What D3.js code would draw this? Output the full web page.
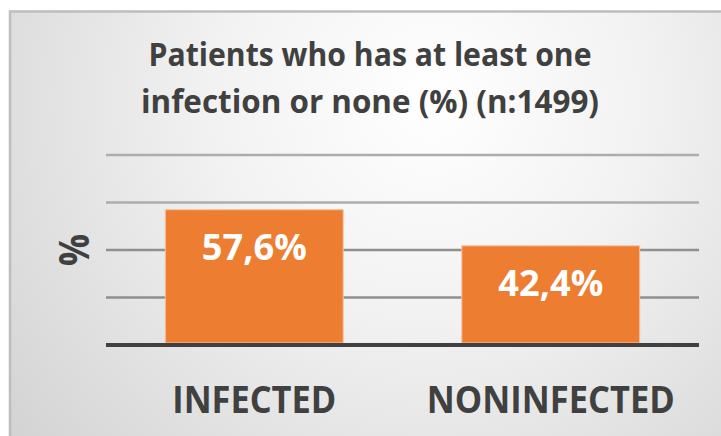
<!DOCTYPE html>
<html>
<head>
<meta charset="utf-8">
<script src="https://cdn.jsdelivr.net/npm/d3@7"></script>
<style>
    html, body { margin: 0; padding: 0; background: #fff; }
    svg { display: block; }
    text { font-family: "Open Sans", "Noto Sans", sans-serif; font-weight: 700; }
</style>
</head>
<body>
<div id="chart-holder"></div>
<script>
// data
const categories = ["INFECTED", "NONINFECTED"];
const values = [57.6, 42.4];
const valueLabels = ["57,6%", "42,4%"];
const yTicks = [0, 20, 40, 60, 80];
const titleLines = ["Patients who has at least one", "infection or none (%) (n:1499)"];
const yTitle = "%";

const WIDTH = 721;
const HEIGHT = 436;
const TEXT_COLOR = "#404040";
const BAR_COLOR = "#ED7D31";

// the reference font is narrow (Calibri-like), squeeze Open Sans to the same widths
const titleWidths = [443, 458];
const catWidths = [164, 248];
const valueWidth = 105;

const margin = {top: 155, right: 22, bottom: 91, left: 106};

const svg = d3.select("#chart-holder").append("svg")
    .attr("width", WIDTH)
    .attr("height", HEIGHT);

const defs = svg.append("defs");
const grad = defs.append("radialGradient")
    .attr("id", "bg")
    .attr("gradientUnits", "userSpaceOnUse")
    .attr("cx", 430).attr("cy", 100).attr("r", 540);
grad.append("stop").attr("offset", "0%").attr("stop-color", "#ffffff");
grad.append("stop").attr("offset", "40%").attr("stop-color", "#f2f2f2");
grad.append("stop").attr("offset", "100%").attr("stop-color", "#d3d3d3");

// chart frame, cut off on the right and bottom
svg.append("rect")
    .attr("x", 10).attr("y", 11.5)
    .attr("width", WIDTH + 20).attr("height", HEIGHT + 20)
    .attr("fill", "url(#bg)")
    .attr("stroke", "#bdbdbd")
    .attr("stroke-width", 2.5);

const x = d3.scaleBand()
    .domain(categories)
    .range([margin.left, WIDTH - margin.right])
    .paddingInner(0.4)
    .paddingOuter(0.2);

const y = d3.scaleLinear()
    .domain([0, 80])
    .range([HEIGHT - margin.bottom, margin.top]);

// gridlines
svg.append("g")
    .selectAll("line")
    .data(yTicks.filter(d => d > 0))
    .enter().append("line")
    .attr("x1", margin.left).attr("x2", WIDTH - margin.right)
    .attr("y1", d => y(d)).attr("y2", d => y(d))
    .attr("stroke", d => d >= 60 ? "#adadad" : "#8f8f8f")
    .attr("stroke-width", 2.5);

// bars
svg.append("g")
    .selectAll("rect")
    .data(values)
    .enter().append("rect")
    .attr("x", (d, i) => x(categories[i]))
    .attr("y", d => y(d) + 1.5)
    .attr("width", x.bandwidth())
    .attr("height", d => y(0) - y(d) - 3.5)
    .attr("fill", BAR_COLOR)
    .attr("stroke", "#f6c3a0")
    .attr("stroke-width", 1);

// baseline
svg.append("line")
    .attr("x1", margin.left).attr("x2", WIDTH - margin.right)
    .attr("y1", y(0)).attr("y2", y(0))
    .attr("stroke", "#404040")
    .attr("stroke-width", 4);

// value labels
svg.append("g")
    .selectAll("text")
    .data(values)
    .enter().append("text")
    .attr("x", (d, i) => x(categories[i]) + x.bandwidth() / 2)
    .attr("y", d => y(d) + 52)
    .attr("text-anchor", "middle")
    .attr("fill", "#ffffff")
    .style("font-size", "36px")
    .attr("textLength", valueWidth)
    .attr("lengthAdjust", "spacingAndGlyphs")
    .text((d, i) => valueLabels[i]);

// category axis labels
svg.append("g")
    .selectAll("text")
    .data(categories)
    .enter().append("text")
    .attr("x", d => x(d) + x.bandwidth() / 2)
    .attr("y", 413)
    .attr("text-anchor", "middle")
    .attr("fill", TEXT_COLOR)
    .style("font-size", "37px")
    .attr("textLength", (d, i) => catWidths[i])
    .attr("lengthAdjust", "spacingAndGlyphs")
    .text(d => d);

// y axis title
svg.append("text")
    .attr("transform", "translate(89," + y(40) + ") rotate(-90)")
    .attr("text-anchor", "middle")
    .attr("fill", TEXT_COLOR)
    .style("font-size", "42px")
    .attr("textLength", 32)
    .attr("lengthAdjust", "spacingAndGlyphs")
    .text(yTitle);

// chart title
svg.append("g")
    .selectAll("text")
    .data(titleLines)
    .enter().append("text")
    .attr("x", 370)
    .attr("y", (d, i) => 66 + i * 47)
    .attr("text-anchor", "middle")
    .attr("fill", TEXT_COLOR)
    .style("font-size", "31.5px")
    .attr("textLength", (d, i) => titleWidths[i])
    .attr("lengthAdjust", "spacingAndGlyphs")
    .text(d => d);
</script>
</body>
</html>
